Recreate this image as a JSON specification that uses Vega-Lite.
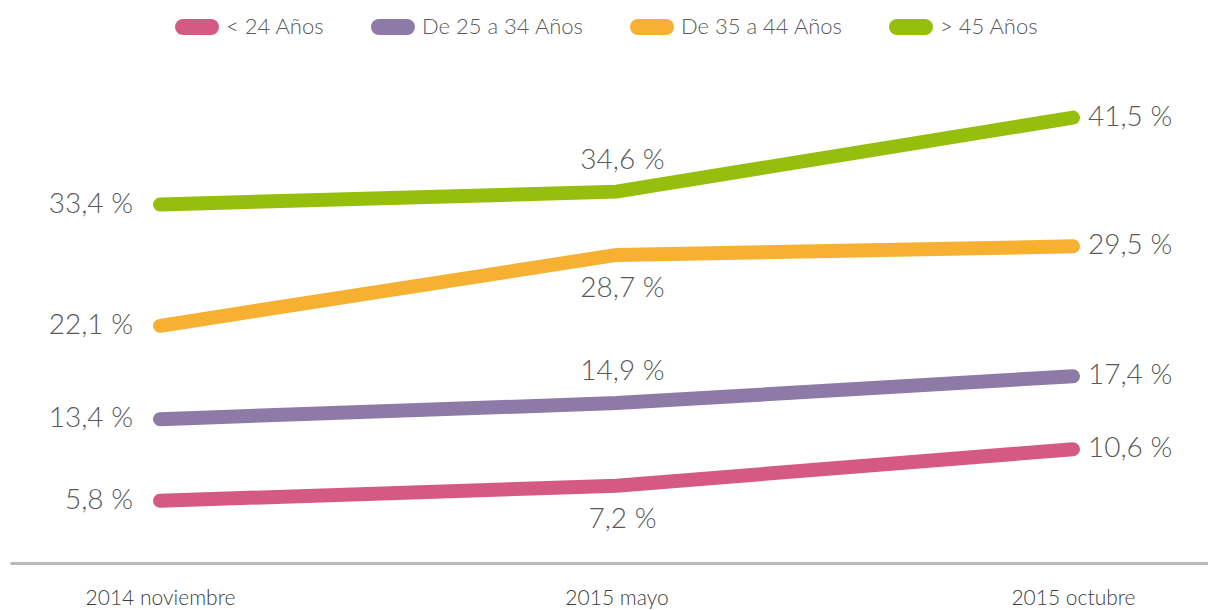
{
  "$schema": "https://vega.github.io/schema/vega-lite/v6.json",
  "width": 1213,
  "height": 483,
  "autosize": {"type": "none"},
  "padding": {"left": 10, "top": 80, "right": 0, "bottom": 47},
  "config": {
    "font": "Lato",
    "view": {"stroke": null},
    "axis": {"grid": false}
  },
  "data": {
    "values": [
      {"date": "2014 noviembre", "series": "< 24 Años", "value": 5.8, "label": "5,8 %"},
      {"date": "2015 mayo", "series": "< 24 Años", "value": 7.2, "label": "7,2 %"},
      {"date": "2015 octubre", "series": "< 24 Años", "value": 10.6, "label": "10,6 %"},
      {"date": "2014 noviembre", "series": "De 25 a 34 Años", "value": 13.4, "label": "13,4 %"},
      {"date": "2015 mayo", "series": "De 25 a 34 Años", "value": 14.9, "label": "14,9 %"},
      {"date": "2015 octubre", "series": "De 25 a 34 Años", "value": 17.4, "label": "17,4 %"},
      {"date": "2014 noviembre", "series": "De 35 a 44 Años", "value": 22.1, "label": "22,1 %"},
      {"date": "2015 mayo", "series": "De 35 a 44 Años", "value": 28.7, "label": "28,7 %"},
      {"date": "2015 octubre", "series": "De 35 a 44 Años", "value": 29.5, "label": "29,5 %"},
      {"date": "2014 noviembre", "series": "> 45 Años", "value": 33.4, "label": "33,4 %"},
      {"date": "2015 mayo", "series": "> 45 Años", "value": 34.6, "label": "34,6 %"},
      {"date": "2015 octubre", "series": "> 45 Años", "value": 41.5, "label": "41,5 %"}
    ]
  },
  "encoding": {
    "x": {
      "field": "date",
      "type": "ordinal",
      "sort": ["2014 noviembre", "2015 mayo", "2015 octubre"],
      "scale": {"type": "point", "padding": 0.3286},
      "axis": {
        "title": null,
        "labelAngle": 0,
        "ticks": false,
        "domainColor": "#b8b8b8",
        "domainWidth": 3,
        "labelFontSize": 21,
        "labelFontWeight": 300,
        "labelColor": "#404040",
        "labelPadding": 24
      }
    },
    "y": {
      "field": "value",
      "type": "quantitative",
      "scale": {"domain": [0, 45], "nice": false, "zero": true},
      "axis": null
    }
  },
  "layer": [
    {
      "mark": {"type": "line", "strokeWidth": 14, "strokeCap": "round", "strokeJoin": "miter"},
      "encoding": {
        "color": {
          "field": "series",
          "type": "nominal",
          "scale": {
            "domain": ["< 24 Años", "De 25 a 34 Años", "De 35 a 44 Años", "> 45 Años"],
            "range": ["#d55a83", "#8d7aa6", "#f6b133", "#96bf0d"]
          },
          "legend": {
            "title": null,
            "orient": "none",
            "direction": "horizontal",
            "legendX": 165,
            "legendY": -75,
            "symbolType": "M-1,0H1",
            "symbolSize": 784,
            "symbolStrokeWidth": 16,
            "labelFontSize": 22,
            "labelFontWeight": 300,
            "labelLimit": 400,
            "labelColor": "#595959",
            "labelOffset": 7,
            "columnPadding": 22,
            "encode": {"symbols": {"update": {"strokeCap": {"value": "round"}}}}
          }
        }
      }
    },
    {
      "transform": [{"filter": "datum.date == '2014 noviembre'"}],
      "mark": {"type": "text", "align": "right", "baseline": "middle", "dx": -27, "fontSize": 28, "fontWeight": 300, "color": "#595959"},
      "encoding": {"text": {"field": "label"}}
    },
    {
      "transform": [{"filter": "datum.date == '2015 octubre'"}],
      "mark": {"type": "text", "align": "left", "baseline": "middle", "dx": 15, "fontSize": 28, "fontWeight": 300, "color": "#595959"},
      "encoding": {"text": {"field": "label"}}
    },
    {
      "transform": [{"filter": "datum.date == '2015 mayo' && (datum.series == '> 45 Años' || datum.series == 'De 25 a 34 Años')"}],
      "mark": {"type": "text", "align": "center", "baseline": "middle", "dx": 6, "dy": -31, "fontSize": 28, "fontWeight": 300, "color": "#595959"},
      "encoding": {"text": {"field": "label"}}
    },
    {
      "transform": [{"filter": "datum.date == '2015 mayo' && (datum.series == '< 24 Años' || datum.series == 'De 35 a 44 Años')"}],
      "mark": {"type": "text", "align": "center", "baseline": "middle", "dx": 6, "dy": 34, "fontSize": 28, "fontWeight": 300, "color": "#595959"},
      "encoding": {"text": {"field": "label"}}
    }
  ]
}
